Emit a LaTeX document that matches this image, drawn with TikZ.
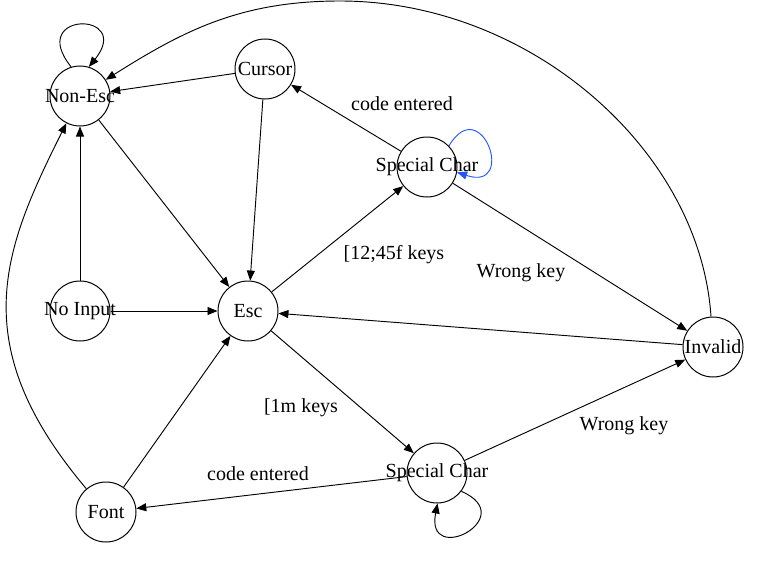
\documentclass[tikz,border=0pt]{standalone}
\usepackage{fontspec}
\setmainfont{Liberation Serif}
\usetikzlibrary{arrows.meta}
\definecolor{loopblue}{RGB}{34,85,255}
\newcommand{\statetext}[1]{\makebox[0pt]{\raisebox{-1.2pt}{#1}}}
\begin{document}
\begin{tikzpicture}[x=0.75pt,y=-0.75pt,
  state/.style={draw, circle, minimum size=45pt, inner sep=0pt, line width=0.75pt, font=\fontsize{15}{18}\selectfont},
  edge/.style={draw, line width=0.7pt, -{Triangle[length=7.5pt,width=6pt]}},
  lbl/.style={font=\fontsize{15}{18}\selectfont, inner sep=0pt}]
\useasboundingbox (0,0) rectangle (766,560);
\node[state] (ne)  at (80,96)   {\statetext{Non-Esc}};
\node[state] (cur) at (265,69)  {\statetext{Cursor}};
\node[state] (sct) at (427,167) {\statetext{Special Char}};
\node[state] (esc) at (248,311) {\statetext{Esc}};
\node[state] (noi) at (80,311)  {\statetext{No Input}};
\node[state] (inv) at (713,347) {\statetext{Invalid}};
\node[state] (scb) at (437,473) {\statetext{Special Char}};
\node[state] (fnt) at (106,512) {\statetext{Font}};
\coordinate (arctop) at (340,1);
% self loops
\draw[edge] (ne.107) .. controls +(-45,-56) and +(45,-56) .. (ne.73);
\draw[edge, draw=loopblue, -{Triangle[length=7.5pt,width=6pt,fill=loopblue]}] (sct.44) .. controls +(32.5,-54.4) and +(60.1,20) .. (sct.-10);
\draw[edge] (scb.-37) .. controls +(60,26) and +(-12.6,64) .. (scb.-89);
% straight edges
\draw[edge] (cur) -- (ne);
\draw[edge] (noi) -- (ne);
\draw[edge] (ne) -- (esc);
\draw[edge] (cur) -- (esc);
\draw[edge] (noi) -- (esc);
\draw[edge] (esc) -- (sct);
\draw[edge] (sct) -- (cur);
\draw[edge] (sct) -- (inv);
\draw[edge] (inv) -- (esc);
\draw[edge] (esc) -- (scb);
\draw[edge] (scb) -- (inv);
\draw[edge] (scb) -- (fnt);
\draw[edge] (fnt) -- (esc);
% curved edges
\draw[edge] (inv) .. controls (700,150) and (530,1) .. (arctop) .. controls (240,1) and (183,31) .. (ne);
\draw[edge] (fnt) .. controls (-36,344) and (3.2,249.4) .. (ne);
% labels
\node[lbl] (l1) at (402,104) {code entered};
\node[lbl] (l2) at (394,255) {[12;45f keys};
\node[lbl] (l3) at (521,273) {Wrong key};
\node[lbl] (l4) at (301,408) {[1m keys};
\node[lbl] (l5) at (624,426) {Wrong key};
\node[lbl] (l6) at (258,474) {code entered};
\end{tikzpicture}
\end{document}
